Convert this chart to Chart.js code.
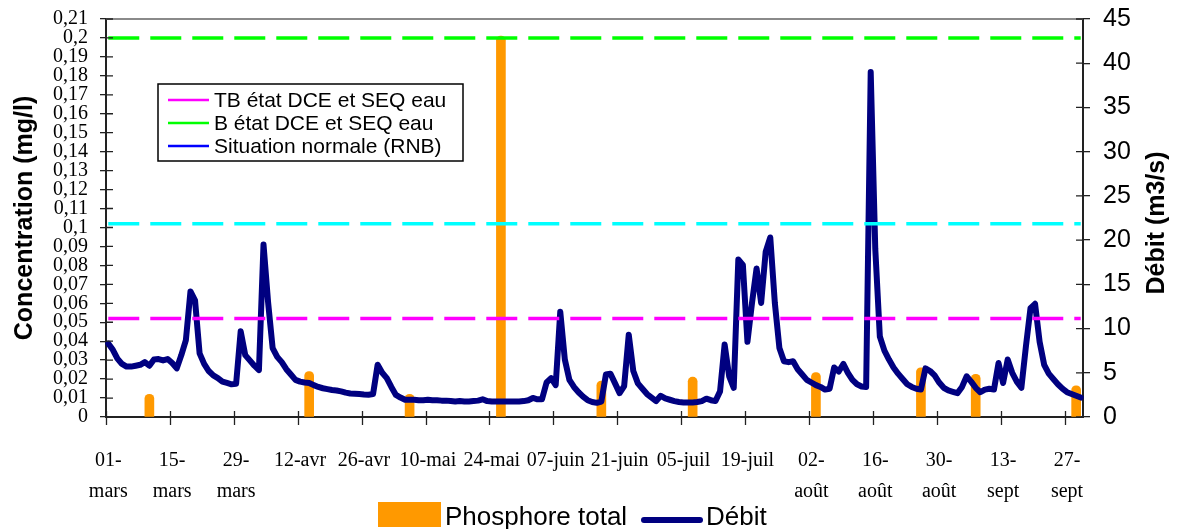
<!DOCTYPE html>
<html>
<head>
<meta charset="utf-8">
<script src="https://cdn.jsdelivr.net/npm/chart.js@4.4.1/dist/chart.umd.min.js"></script>
<style>
  html, body { margin: 0; padding: 0; background: #fff; }
</style>
</head>
<body>
<canvas id="chart" width="1179" height="529"></canvas>
<script>
// daily categories 01-mars .. 30-sept
const monthNames = ['mars', 'avr', 'mai', 'juin', 'juil', 'août', 'sept'];
const monthLengths = [31, 30, 31, 30, 31, 31, 30];
const days = [];
monthNames.forEach((m, i) => {
  for (let d = 1; d <= monthLengths[i]; d++) days.push(String(d).padStart(2, '0') + '-' + m);
});

// labels shown every 14 days
const tickEvery = 14;
const xTickLabels = [['01-', 'mars'], ['15-', 'mars'], ['29-', 'mars'], '12-avr', '26-avr', '10-mai',
  '24-mai', '07-juin', '21-juin', '05-juil', '19-juil', ['02-', 'août'], ['16-', 'août'],
  ['30-', 'août'], ['13-', 'sept'], ['27-', 'sept']];

// Débit (m3/s), one value per day
const debit = [
  8.3, 7.6, 6.6, 6.0, 5.7, 5.7, 5.8, 5.9, 6.2, 5.8,
  6.5, 6.55, 6.4, 6.55, 6.1, 5.5, 7.0, 8.7, 14.2, 13.2,
  7.2, 6.0, 5.2, 4.7, 4.4, 4.0, 3.85, 3.7, 3.75, 9.7,
  7.0, 6.4, 5.8, 5.3, 19.5, 13.0, 7.8, 6.8, 6.2, 5.4,
  4.8, 4.2, 4.0, 3.9, 3.85, 3.6, 3.4, 3.25, 3.15, 3.05,
  3.0, 2.9, 2.75, 2.65, 2.63, 2.6, 2.55, 2.52, 2.6, 5.9,
  5.0, 4.4, 3.4, 2.5, 2.2, 1.95, 1.95, 1.95, 1.9, 1.9,
  1.95, 1.9, 1.9, 1.85, 1.85, 1.8, 1.75, 1.8, 1.75, 1.75,
  1.8, 1.85, 2.0, 1.8, 1.75, 1.75, 1.75, 1.75, 1.75, 1.75,
  1.75, 1.8, 1.9, 2.15, 2.0, 2.0, 3.9, 4.4, 3.6, 11.9,
  6.5, 4.2, 3.4, 2.8, 2.3, 1.9, 1.7, 1.6, 1.75, 4.8,
  4.9, 3.8, 2.7, 3.5, 9.3, 5.2, 3.8, 3.2, 2.6, 2.2,
  1.8, 2.4, 2.1, 1.95, 1.8, 1.7, 1.65, 1.65, 1.65, 1.7,
  1.8, 2.07, 1.9, 1.8, 2.9, 8.2, 4.6, 3.3, 17.8, 17.2,
  8.5, 12.9, 16.8, 12.9, 18.7, 20.3, 12.9, 7.8, 6.3, 6.2,
  6.3, 5.4, 4.8, 4.2, 3.9, 3.6, 3.4, 3.1, 3.2, 5.6,
  5.15, 6.0, 5.0, 4.2, 3.7, 3.45, 3.4, 39.0, 19.0, 9.1,
  7.5, 6.5, 5.6, 4.9, 4.3, 3.7, 3.4, 3.2, 3.1, 5.5,
  5.2, 4.7, 3.9, 3.3, 3.0, 2.85, 2.7, 3.4, 4.6, 4.0,
  3.3, 2.8, 3.1, 3.2, 3.1, 6.1, 3.84, 6.5, 5.0, 4.0,
  3.3, 8.0, 12.3, 12.8, 8.5, 5.9, 4.9, 4.3, 3.7, 3.2,
  2.8, 2.6, 2.4, 2.2
];

// Phosphore total (mg/l), sampling dates
const phosDates = ['10-mars', '14-avr', '06-mai', '26-mai', '17-juin', '07-juil', '03-août', '26-août', '07-sept', '29-sept'];
const phosValues = [0.012, 0.024, 0.012, 0.201, 0.019, 0.021, 0.0235, 0.026, 0.0225, 0.0165];

// reference thresholds (mg/l)
const thresholdLabels = ['TB état DCE et SEQ eau', 'B état DCE et SEQ eau', 'Situation normale (RNB)'];
const thresholdValues = [0.052, 0.2, 0.102];
const thresholdColors = ['#ff00ff', '#00ff00', '#00ffff'];
const thresholdLegendColors = ['#ff00ff', '#00ff00', '#0000ff'];

const phosData = days.map(d => {
  const k = phosDates.indexOf(d);
  return k >= 0 ? phosValues[k] : null;
});

const thresholdSets = thresholdValues.map((v, i) => ({
  type: 'line',
  label: thresholdLabels[i],
  data: days.map(() => v),
  yAxisID: 'y',
  borderColor: thresholdColors[i],
  borderWidth: 3.5,
  borderDash: [31, 11],
  pointRadius: 0,
  order: 0
}));

const SANS = 'Liberation Sans, Arial, sans-serif';
const SERIF = 'Liberation Serif, Times New Roman, serif';

const decor = {
  id: 'decor',
  afterDraw(chart) {
    const ctx = chart.ctx;
    const a = chart.chartArea;
    const sx = chart.scales.x, sy = chart.scales.y, sy1 = chart.scales.y1;
    ctx.save();
    // plot border on top
    ctx.strokeStyle = '#8a8a8a';
    ctx.lineWidth = 2;
    ctx.beginPath();
    ctx.moveTo(a.left, a.top);
    ctx.lineTo(a.right, a.top);
    ctx.stroke();

    // tick marks crossing into the plot
    ctx.strokeStyle = '#222';
    ctx.lineWidth = 1.3;
    ctx.beginPath();
    sy.ticks.forEach((t, i) => {
      const p = sy.getPixelForTick(i);
      ctx.moveTo(a.left, p); ctx.lineTo(a.left + 7, p);
    });
    sy1.ticks.forEach((t, i) => {
      const p = sy1.getPixelForTick(i);
      ctx.moveTo(a.right, p); ctx.lineTo(a.right - 7, p);
    });
    const half = (sx.getPixelForValue(1) - sx.getPixelForValue(0)) / 2;
    for (let i = 0; i < days.length; i += tickEvery) {
      const p = Math.round(sx.getPixelForValue(i) - half) + 0.5;
      ctx.moveTo(p, a.bottom - 6); ctx.lineTo(p, a.bottom + 8);
    }
    ctx.stroke();

    // right axis title, reading upwards
    ctx.fillStyle = '#000';
    ctx.font = 'bold 25px ' + SANS;
    ctx.textAlign = 'center';
    ctx.textBaseline = 'middle';
    ctx.translate(1157, 223);
    ctx.rotate(-Math.PI / 2);
    ctx.fillText('Débit (m3/s)', 0, 0);
    ctx.setTransform(1, 0, 0, 1, 0, 0);

    // inner legend (thresholds)
    ctx.fillStyle = '#fff';
    ctx.fillRect(158, 84, 305, 77);
    ctx.strokeStyle = '#000';
    ctx.lineWidth = 1.5;
    ctx.strokeRect(158, 84, 305, 77);
    ctx.font = '21px ' + SANS;
    ctx.textAlign = 'left';
    ctx.textBaseline = 'middle';
    thresholdLabels.forEach((lab, i) => {
      const y = 100 + i * 23;
      ctx.strokeStyle = thresholdLegendColors[i];
      ctx.lineWidth = 2.5;
      ctx.beginPath();
      ctx.moveTo(168, y); ctx.lineTo(209, y);
      ctx.stroke();
      ctx.fillStyle = '#000';
      ctx.fillText(lab, 214, y + 1);
    });

    // bottom legend
    const bars = chart.data.datasets.find(d => d.type === 'bar');
    const flow = chart.data.datasets.find(d => d.label === 'Débit');
    ctx.font = '26px ' + SANS;
    ctx.textBaseline = 'alphabetic';
    ctx.fillStyle = bars.backgroundColor;
    ctx.fillRect(378, 502, 63, 25);
    ctx.fillStyle = '#000';
    ctx.fillText(bars.label, 445, 525);
    ctx.strokeStyle = flow.borderColor;
    ctx.lineWidth = 6;
    ctx.lineCap = 'round';
    ctx.beginPath();
    ctx.moveTo(644, 520); ctx.lineTo(700, 520);
    ctx.stroke();
    ctx.fillText(flow.label, 706, 525);
    ctx.restore();
  }
};

new Chart(document.getElementById('chart'), {
  type: 'bar',
  data: {
    labels: days,
    datasets: [
      ...thresholdSets,
      {
        type: 'line',
        label: 'Débit',
        data: debit,
        yAxisID: 'y1',
        borderColor: '#000080',
        borderWidth: 6,
        borderJoinStyle: 'round',
        borderCapStyle: 'round',
        pointRadius: 0,
        tension: 0,
        order: 1
      },
      {
        type: 'bar',
        label: 'Phosphore total',
        data: phosData,
        yAxisID: 'y',
        backgroundColor: '#ff9900',
        barThickness: 9,
        borderRadius: 4.5,
        borderSkipped: 'start',
        order: 2
      }
    ]
  },
  options: {
    responsive: false,
    animation: false,
    layout: { padding: { top: 19, bottom: 7, left: 0, right: 0 } },
    plugins: { legend: { display: false }, tooltip: { enabled: false } },
    scales: {
      x: {
        type: 'category',
        offset: true,
        grid: { display: false },
        border: { display: true, color: '#222', width: 2 },
        ticks: {
          autoSkip: false,
          maxRotation: 0,
          minRotation: 0,
          padding: 20,
          color: '#000',
          font: { family: SERIF, size: 20, lineHeight: 1.55 },
          callback: (v, i) => i % tickEvery === 0 ? xTickLabels[i / tickEvery] : null
        },
        afterFit: s => { s.height = 105; }
      },
      y: {
        position: 'left',
        min: 0,
        max: 0.21,
        grid: { drawOnChartArea: false, tickLength: 6, color: '#222', lineWidth: 1.3 },
        border: { display: true, color: '#222', width: 2 },
        ticks: {
          stepSize: 0.01,
          autoSkip: false,
          padding: 12,
          color: '#000',
          font: { family: SERIF, size: 20, lineHeight: 0.4 },
          callback: v => String(+v.toFixed(2)).replace('.', ',')
        },
        title: {
          display: true,
          text: 'Concentration (mg/l)',
          color: '#000',
          font: { family: SANS, size: 25, weight: 'bold' },
          padding: { top: 10, bottom: 0 }
        },
        afterFit: s => { s.width = 106; }
      },
      y1: {
        position: 'right',
        min: 0,
        max: 45,
        grid: { drawOnChartArea: false, tickLength: 7, color: '#222', lineWidth: 1.3 },
        border: { display: true, color: '#222', width: 2 },
        ticks: {
          stepSize: 5,
          autoSkip: false,
          padding: 13,
          color: '#000',
          font: { family: SANS, size: 25, lineHeight: 0.4 }
        },
        afterFit: s => { s.width = 96; }
      }
    }
  },
  plugins: [decor]
});
</script>
</body>
</html>
